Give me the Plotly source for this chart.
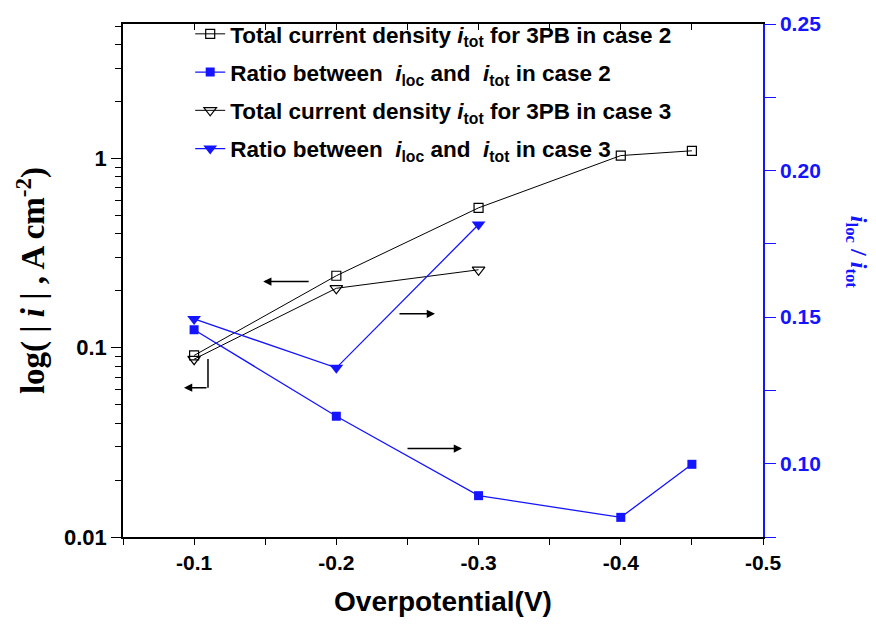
import plotly.graph_objects as go

# ---- data ----
overpot_case2 = [-0.1, -0.2, -0.3, -0.4, -0.45]
itot_case2 = [0.091, 0.240, 0.548, 1.035, 1.097]
ratio_case2 = [0.1457, 0.1162, 0.0891, 0.0817, 0.0998]

overpot_case3 = [-0.1, -0.2, -0.3]
itot_case3 = [0.087, 0.206, 0.258]
ratio_case3 = [0.1494, 0.1327, 0.1816]

x_ticks = [-0.1, -0.2, -0.3, -0.4, -0.5]
x_ticklabels = ["-0.1", "-0.2", "-0.3", "-0.4", "-0.5"]
left_ticks = [0.01, 0.1, 1]
left_ticklabels = ["0.01", "0.1", "1"]
left_minor = [m * d for d in (0.01, 0.1, 1) for m in range(2, 10) if m * d < 5.2]
right_ticks = [0.10, 0.15, 0.20, 0.25]

names = [
    "Total current density <i>i</i><sub>tot</sub> for 3PB in case 2",
    "Ratio between  <i>i</i><sub>loc</sub> and  <i>i</i><sub>tot</sub> in case 2",
    "Total current density <i>i</i><sub>tot</sub> for 3PB in case 3",
    "Ratio between  <i>i</i><sub>loc</sub> and  <i>i</i><sub>tot</sub> in case 3",
]

BLUE = "#1414FF"
SANS = "Liberation Sans, Arial, sans-serif"
SERIF = "Liberation Serif, Times New Roman, serif"

fig = go.Figure()
fig.add_trace(go.Scatter(
    x=overpot_case2, y=itot_case2, name=names[0], legendgroup="a",
    mode="lines+markers", line=dict(color="black", width=1),
    marker=dict(symbol="square-open", size=9, color="black", line=dict(width=1.2)),
    yaxis="y"))
fig.add_trace(go.Scatter(
    x=overpot_case2, y=ratio_case2, name=names[1], legendgroup="b",
    mode="lines+markers", line=dict(color=BLUE, width=1.3),
    marker=dict(symbol="square", size=9, color=BLUE),
    yaxis="y2"))
fig.add_trace(go.Scatter(
    x=overpot_case3, y=itot_case3, name=names[2], legendgroup="c",
    mode="lines+markers", line=dict(color="black", width=1),
    marker=dict(symbol="triangle-down-open", size=11, color="black", line=dict(width=1.2)),
    yaxis="y"))
fig.add_trace(go.Scatter(
    x=overpot_case3, y=ratio_case3, name=names[3], legendgroup="d",
    mode="lines+markers", line=dict(color=BLUE, width=1.3),
    marker=dict(symbol="triangle-down", size=12, color=BLUE),
    yaxis="y2"))
# invisible helper trace so the top mirror axis is drawn
fig.add_trace(go.Scatter(x=[None], y=[None], xaxis="x2", yaxis="y",
                         showlegend=False, hoverinfo="skip"))

fig.update_layout(
    width=876, height=624,
    margin=dict(l=123, r=113, t=17, b=85),
    paper_bgcolor="white", plot_bgcolor="white",
    showlegend=True,
    legend=dict(
        x=0.105, y=1.022, xanchor="left", yanchor="top",
        bgcolor="rgba(0,0,0,0)", borderwidth=0,
        font=dict(family=SANS, size=22.5, color="black", weight="bold"),
        traceorder="grouped", tracegroupgap=6, itemwidth=30,
    ),
    xaxis=dict(
        range=[-0.05, -0.5], tickvals=x_ticks, ticktext=x_ticklabels,
        showline=True, linecolor="black", linewidth=1.5,
        ticks="outside", ticklen=6, tickwidth=1.3, tickcolor="black",
        minor=dict(ticks="outside", ticklen=6, tickwidth=1.3, tickcolor="black", dtick=0.05, tick0=0),
        showgrid=False, zeroline=False,
        tickfont=dict(family=SANS, size=21, color="black", weight="bold"),
        title=dict(text="Overpotential(V)", standoff=18,
                   font=dict(family=SANS, size=28, color="black", weight="bold")),
    ),
    xaxis2=dict(
        range=[-0.05, -0.5], overlaying="x", side="top", anchor="y",
        tickvals=x_ticks, showticklabels=False,
        showline=True, linecolor="black", linewidth=1.5,
        ticks="inside", ticklen=6, tickwidth=1.3, tickcolor="black",
        minor=dict(ticks="inside", ticklen=6, tickwidth=1.3, tickcolor="black", dtick=0.05, tick0=0),
        showgrid=False, zeroline=False,
    ),
    yaxis=dict(
        type="log", range=[-2, 0.71], tickvals=left_ticks, ticktext=left_ticklabels,
        showline=True, linecolor="black", linewidth=1.5,
        ticks="outside", ticklen=10, tickwidth=1.3, tickcolor="black",
        minor=dict(tickmode="array", tickvals=left_minor, ticks="outside",
                   ticklen=6, tickwidth=1.3, tickcolor="black", showgrid=False),
        showgrid=False, zeroline=False,
        tickfont=dict(family=SANS, size=22, color="black", weight="bold"),
        title=dict(text="log( | <i>i</i> | , A cm<sup>-2</sup>)", standoff=9,
                   font=dict(family=SERIF, size=33, color="black", weight="bold")),
    ),
    yaxis2=dict(
        overlaying="y", side="right", anchor="x",
        range=[0.075, 0.25], tickvals=right_ticks, tickformat=".2f",
        showline=True, linecolor=BLUE, linewidth=1.5,
        ticks="outside", ticklen=11, tickwidth=1.3, tickcolor=BLUE,
        minor=dict(ticks="outside", ticklen=11, tickwidth=1.3, tickcolor=BLUE, dtick=0.025, tick0=0),
        showgrid=False, zeroline=False,
        tickfont=dict(family=SANS, size=21, color=BLUE, weight="bold"),
    ),
)

# right axis title (rotated clockwise, near the right edge as in the reference)
fig.add_annotation(
    text="<i>i</i><sub>loc</sub> / <i>i</i><sub>tot</sub>",
    xref="paper", yref="paper", x=1.146, y=0.555, xanchor="center", yanchor="middle",
    showarrow=False,
    textangle=90, font=dict(family=SERIF, size=24, color=BLUE, weight="bold"),
)

# pointer arrows (paper coords of plot area)
def arrow(hx, hy, ax):
    fig.add_annotation(xref="paper", yref="paper", x=hx, y=hy, ax=ax, ay=0,
                       text="", showarrow=True, arrowhead=2, arrowsize=1.1,
                       arrowwidth=1.5, arrowcolor="black")

arrow(0.219, 0.498, 47)
arrow(0.4875, 0.435, -37)
arrow(0.5297, 0.1724, -56)
arrow(0.0953, 0.291, 24)
fig.add_shape(type="line", xref="paper", yref="paper",
              x0=0.1328, x1=0.1328, y0=0.347, y1=0.291,
              line=dict(color="black", width=1.5))

fig.write_html("out.html")
